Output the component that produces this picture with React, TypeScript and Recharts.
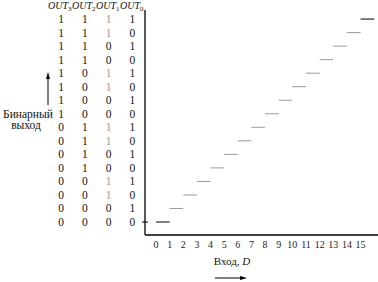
import { LineChart, Line, XAxis, YAxis } from "recharts";

// output levels (step heights) and matching binary codes
const levels = [0, 1, 2, 3, 4, 5, 6, 7, 8, 9, 10, 11, 12, 13, 14, 15];
const codes = [
  "0000", "0001", "0010", "0011", "0100", "0101", "0110", "0111",
  "1000", "1001", "1010", "1011", "1100", "1101", "1110", "1111",
];
const xTicks = [0, 1, 2, 3, 4, 5, 6, 7, 8, 9, 10, 11, 12, 13, 14, 15];
const bitLabels = ["3", "2", "1", "0"];

const FONT = "Liberation Serif, Times New Roman, DejaVu Serif, serif";

function CodeTick(props: any) {
  const { x, y, payload } = props;
  const code = codes[payload.value];
  if (!code) return null;
  return (
    <g>
      {code.split("").map((b, i) => (
        <text
          key={i}
          x={x - 84 + i * 23.8}
          y={y}
          dy={4}
          textAnchor="middle"
          style={{ fontFamily: FONT }}
          fontSize={11.5}
          fill={i === 2 && b === "1" ? "#9a9a9a" : "#111"}
        >
          {b}
        </text>
      ))}
      {payload.value === 0 && (
        <line x1={x - 3} x2={x + 3} y1={y} y2={y} stroke="#000" strokeWidth={1} />
      )}
    </g>
  );
}

function YLabel() {
  return (
    <g style={{ fontFamily: FONT }} fill="#111">
      {bitLabels.map((n, i) => (
        <text key={n} x={48 + i * 24} y={9} fontSize={10}>
          <tspan fontStyle="italic">OUT</tspan>
          <tspan fontSize={7} dy={2}>{n}</tspan>
        </text>
      ))}
      <text x={28} y={118} textAnchor="middle" fontSize={11.5}>Бинарный</text>
      <text x={26} y={129} textAnchor="middle" fontSize={11.5}>выход</text>
      <line x1={48} x2={48} y1={105} y2={77} stroke="#000" strokeWidth={1} />
      <path d="M48,72 L46,79 L50,79 Z" fill="#000" />
    </g>
  );
}

function XLabel() {
  return (
    <g style={{ fontFamily: FONT }} fill="#111">
      <text x={232} y={265} textAnchor="middle" fontSize={11}>
        Вход, <tspan fontStyle="italic">D</tspan>
      </text>
      <line x1={215} x2={242} y1={278} y2={278} stroke="#000" strokeWidth={1} />
      <path d="M247,278 L240,276 L240,280 Z" fill="#000" />
    </g>
  );
}

export default function App() {
  return (
    <div style={{ position: "absolute", left: 0, top: 0, background: "#fff" }}>
      <LineChart width={378} height={282} margin={{ top: 10, right: 0, bottom: 0, left: 0 }}>
        <XAxis
          type="number"
          dataKey="x"
          domain={[-0.806, 16.28]}
          allowDataOverflow
          ticks={xTicks}
          interval={0}
          tickLine={false}
          tickSize={4}
          tickMargin={2}
          height={47}
          axisLine={{ stroke: "#000", strokeWidth: 1.3 }}
          tick={{ fontFamily: FONT, fontSize: 10, fill: "#222" }}
          label={<XLabel />}
        />
        <YAxis
          type="number"
          dataKey="y"
          domain={[-0.96, 15.67]}
          allowDataOverflow
          ticks={levels}
          interval={0}
          tickLine={false}
          tickSize={0}
          tickMargin={0}
          width={145}
          axisLine={{ stroke: "#000", strokeWidth: 1.3 }}
          tick={<CodeTick />}
          label={<YLabel />}
        />
        {levels.map((k) => (
          <Line
            key={k}
            data={[
              { x: k, y: k },
              { x: k + 1, y: k },
            ]}
            dataKey="y"
            stroke={k === 0 || k === 15 ? "#000" : "#999"}
            strokeWidth={1}
            dot={false}
            activeDot={false}
            isAnimationActive={false}
          />
        ))}
      </LineChart>
    </div>
  );
}
